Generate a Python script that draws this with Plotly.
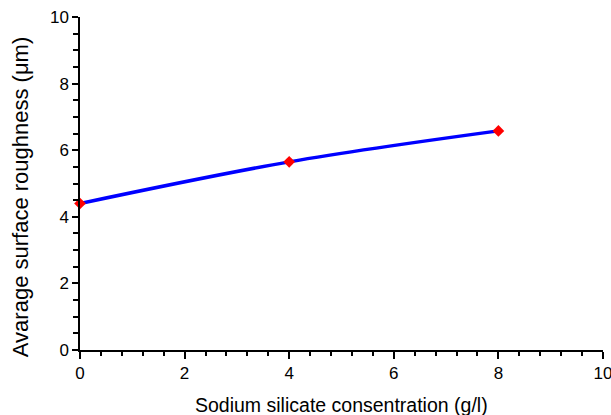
import plotly.graph_objects as go

conc = [0, 4, 8]
roughness = [4.4, 5.65, 6.58]

fig = go.Figure()
fig.add_trace(go.Scatter(
    x=conc, y=roughness, mode="lines",
    line=dict(color="#0000ff", width=3.5, shape="spline", smoothing=1.0),
    showlegend=False, hoverinfo="skip"))
fig.add_trace(go.Scatter(
    x=conc, y=roughness, mode="markers", cliponaxis=False,
    marker=dict(symbol="diamond", color="#ff0000", size=9),
    showlegend=False))

fam = "Liberation Sans, Arial, sans-serif"
tickfont = dict(family=fam, size=17, color="black")
fig.update_layout(
    width=611, height=415,
    margin=dict(l=80, r=8, t=17, b=65, autoexpand=False),
    paper_bgcolor="white", plot_bgcolor="white",
    font=dict(family=fam, size=17, color="black"),
    xaxis=dict(
        range=[0, 10], dtick=2, tick0=0, showgrid=False, zeroline=False,
        showline=True, linecolor="black", linewidth=1.5,
        ticks="outside", ticklen=7, tickwidth=1.5, tickcolor="black",
        minor=dict(dtick=0.4, tick0=0, ticks="outside", ticklen=4, tickwidth=1.5, tickcolor="black"),
        tickfont=tickfont, ticklabeloverflow="allow", automargin=False, fixedrange=True),
    yaxis=dict(
        range=[0, 10], dtick=2, tick0=0, showgrid=False, zeroline=False,
        showline=True, linecolor="black", linewidth=1.5,
        ticks="outside", ticklen=6, tickwidth=1.5, tickcolor="black",
        minor=dict(dtick=0.5, tick0=0, ticks="outside", ticklen=5, tickwidth=1.5, tickcolor="black"),
        tickfont=tickfont, ticklabeloverflow="allow", automargin=False, fixedrange=True),
    annotations=[
        dict(text="Sodium silicate consentration (g/l)", xref="paper", yref="paper",
             x=0.5, y=-0.165, xanchor="center", yanchor="middle", showarrow=False,
             font=dict(family=fam, size=19.5, color="black")),
        dict(text="Avarage surface roughness (μm)", xref="paper", yref="paper",
             x=-0.1147, y=0.459, xanchor="center", yanchor="middle", showarrow=False,
             textangle=-90, font=dict(family=fam, size=22, color="black")),
    ],
)
fig.write_html("out.html")
